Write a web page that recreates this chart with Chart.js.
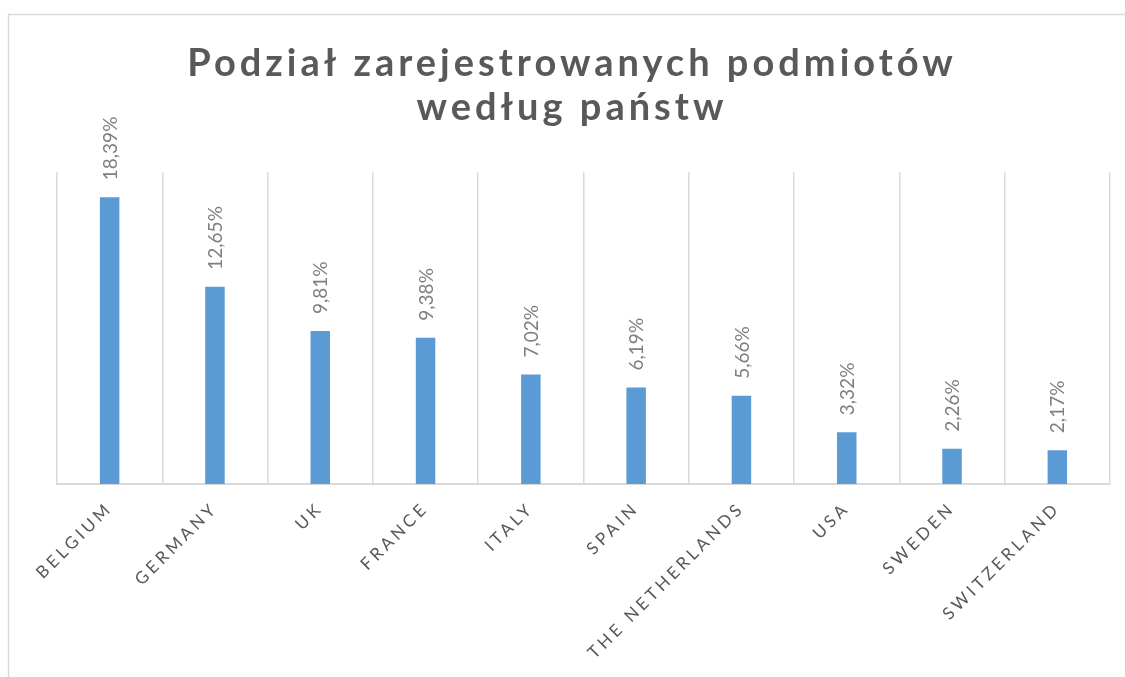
<!DOCTYPE html>
<html>
<head>
<meta charset="utf-8">
<script src="https://cdn.jsdelivr.net/npm/chart.js@4.4.1/dist/chart.umd.min.js"></script>
<style>
  html, body { margin: 0; padding: 0; background: #ffffff; }
  #wrap { position: relative; width: 1125px; height: 677px; }
</style>
</head>
<body>
<div id="wrap"><canvas id="c" width="1125" height="677"></canvas></div>
<script>
const chartTitle = ['Podział zarejestrowanych podmiotów', 'według państw'];
const categories = ['BELGIUM', 'GERMANY', 'UK', 'FRANCE', 'ITALY', 'SPAIN', 'THE NETHERLANDS', 'USA', 'SWEDEN', 'SWITZERLAND'];
const shares = [18.39, 12.65, 9.81, 9.38, 7.02, 6.19, 5.66, 3.32, 2.26, 2.17];
const yMin = 0;
const yMax = 20;

const fmt = v => v.toFixed(2).replace('.', ',') + '%';

const frame = {
  id: 'frame',
  beforeDraw(chart) {
    const c = chart.ctx;
    c.save();
    c.fillStyle = '#ffffff';
    c.fillRect(0, 0, chart.width, chart.height);
    c.strokeStyle = '#d9d9d9';
    c.lineWidth = 1.5;
    c.strokeRect(8.5, 14.5, 1300, 1000);
    c.restore();
  }
};

const spacing = {
  id: 'spacing',
  afterLayout(chart) {
    const tb = chart.titleBlock;
    if (tb && !tb._sp) {
      const o = tb.draw;
      tb.draw = function (...a) { const c = this.ctx; c.save(); c.letterSpacing = '4px'; o.apply(this, a); c.restore(); };
      tb._sp = true;
    }
    const xs = chart.scales.x;
    if (xs && !xs._sp) {
      const o = xs.drawLabels;
      xs.drawLabels = function (...a) { const c = this.ctx; c.save(); c.letterSpacing = '3.6px'; o.apply(this, a); c.restore(); };
      xs._sp = true;
    }
  }
};

const valueLabels = {
  id: 'valueLabels',
  afterDatasetsDraw(chart) {
    const c = chart.ctx;
    const meta = chart.getDatasetMeta(0);
    const data = chart.data.datasets[0].data;
    c.save();
    c.font = '19px Lato';
    c.fillStyle = '#7f7f7f';
    c.textAlign = 'left';
    c.textBaseline = 'middle';
    meta.data.forEach((el, i) => {
      c.save();
      c.translate(el.x + 1, el.y - 17);
      c.rotate(-Math.PI / 2);
      c.fillText(fmt(data[i]), 0, 0);
      c.restore();
    });
    c.restore();
  }
};

new Chart(document.getElementById('c'), {
  type: 'bar',
  data: {
    labels: categories,
    datasets: [{
      data: shares,
      backgroundColor: '#5b9bd5',
      borderWidth: 0,
      categoryPercentage: 0.185,
      barPercentage: 1
    }]
  },
  options: {
    responsive: false,
    animation: false,
    layout: { padding: { left: 34, right: 15, top: 0, bottom: 0 } },
    plugins: {
      legend: { display: false },
      tooltip: { enabled: false },
      title: {
        display: true,
        text: chartTitle,
        color: '#595959',
        font: { family: 'Lato', size: 38, weight: 'bold', lineHeight: 1.16 },
        padding: { top: 42, bottom: 42 }
      }
    },
    scales: {
      x: {
        grid: { display: true, color: '#d9d9d9', lineWidth: 1.5, drawTicks: false, offset: true },
        border: { display: true, color: '#d9d9d9', width: 2 },
        ticks: {
          color: '#595959',
          font: { family: 'Lato', size: 17 },
          minRotation: 45,
          maxRotation: 45,
          autoSkip: false,
          padding: 14
        },
        afterFit: s => { s.height = 193; }
      },
      y: {
        min: yMin,
        max: yMax,
        display: true,
        grid: { display: false },
        border: { display: false },
        ticks: { display: false },
        afterFit: s => { s.width = 23; }
      }
    }
  },
  plugins: [frame, spacing, valueLabels]
});
</script>
</body>
</html>
